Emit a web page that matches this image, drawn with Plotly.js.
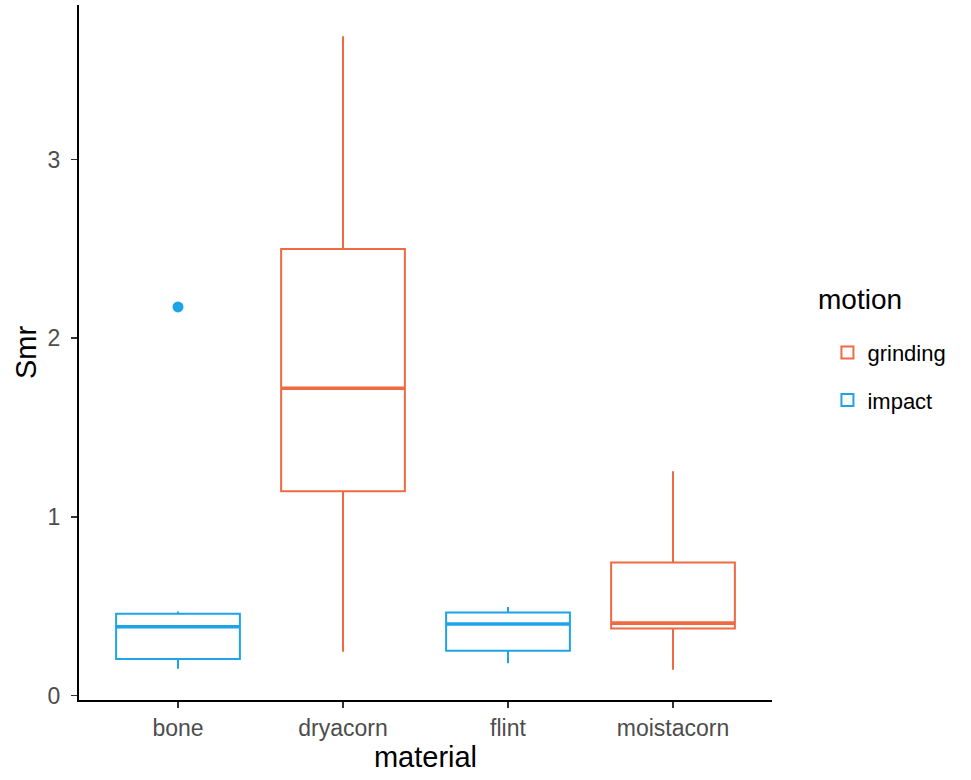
<!DOCTYPE html>
<html><head><meta charset="utf-8">
<script src="https://cdn.plot.ly/plotly-3.0.1.min.js"></script>
<style>html,body{margin:0;padding:0;background:#fff}</style>
</head><body>
<div id="chart" style="width:971px;height:780px"></div>
<script>
const categories = ["bone", "dryacorn", "flint", "moistacorn"];
const motion = ["impact", "grinding", "impact", "grinding"];
const q1 = [0.205, 1.143, 0.25, 0.375];
const median = [0.385, 1.72, 0.40, 0.405];
const q3 = [0.458, 2.50, 0.465, 0.745];
const lowerWhisker = [0.15, 0.245, 0.18, 0.145];
const upperWhisker = [0.47, 3.69, 0.495, 1.255];
const outlierCat = ["bone"];
const outlierVal = [2.175];
const yTicks = [0, 1, 2, 3];
const legendTitle = "motion";

const colors = {grinding: "#EF6A42", impact: "#1DA3E6"};
const groups = ["grinding", "impact"];

const traces = groups.map(g => {
  const idx = categories.map((c, i) => i).filter(i => motion[i] === g);
  return {
    type: "box",
    name: g,
    legendgroup: g,
    x: idx.map(i => categories[i]),
    q1: idx.map(i => q1[i]),
    median: idx.map(i => median[i]),
    q3: idx.map(i => q3[i]),
    lowerfence: idx.map(i => lowerWhisker[i]),
    upperfence: idx.map(i => upperWhisker[i]),
    width: 0.75,
    whiskerwidth: 0,
    boxpoints: false,
    fillcolor: "rgba(255,255,255,0)",
    line: {color: colors[g], width: 2},
    hoverinfo: "skip"
  };
});

traces.push({
  type: "scatter", mode: "markers", x: outlierCat, y: outlierVal,
  marker: {color: colors.impact, size: 11}, showlegend: false, hoverinfo: "skip"
});

const shapes = categories.map((c, i) => ({
  type: "line", xref: "x", yref: "y",
  x0: i - 0.375, x1: i + 0.375, y0: median[i], y1: median[i],
  line: {color: colors[motion[i]], width: 3.6}
}));

const layout = {
  width: 971, height: 780,
  margin: {l: 79, r: 199, t: 5, b: 80},
  paper_bgcolor: "#fff", plot_bgcolor: "#fff",
  font: {family: "Liberation Sans, Arial, sans-serif", color: "#000"},
  boxmode: "overlay",
  showlegend: true,
  shapes: shapes,
  annotations: [{
    text: legendTitle, xref: "paper", yref: "paper",
    x: 1.063, xanchor: "left", y: 0.576, yanchor: "middle",
    showarrow: false, font: {size: 28, color: "#000"}
  }],
  xaxis: {
    type: "category", categoryorder: "array", categoryarray: categories,
    range: [-0.6, 3.6], showgrid: false, zeroline: false,
    showline: true, linecolor: "#000", linewidth: 2,
    ticks: "outside", ticklen: 6, tickwidth: 1.8, tickcolor: "#333",
    tickfont: {size: 23, color: "#4D4D4D"},
    title: {text: "material", font: {size: 29, color: "#000"}, standoff: 4}
  },
  yaxis: {
    range: [-0.025, 3.865], showgrid: false, zeroline: false,
    showline: true, linecolor: "#000", linewidth: 2,
    tickvals: yTicks, ticktext: yTicks.map(String),
    ticks: "outside", ticklen: 6, tickwidth: 1.8, tickcolor: "#333",
    ticklabelstandoff: 6,
    tickfont: {size: 23, color: "#4D4D4D"},
    title: {text: "Smr", font: {size: 29, color: "#000"}, standoff: 2}
  },
  legend: {
    x: 1.08, xanchor: "left", y: 0.53, yanchor: "top",
    font: {size: 22, color: "#000"},
    traceorder: "grouped", tracegroupgap: 16,
    itemclick: false, itemdoubleclick: false
  }
};

Plotly.newPlot("chart", traces, layout, {displayModeBar: false, staticPlot: true});
</script>
</body></html>
